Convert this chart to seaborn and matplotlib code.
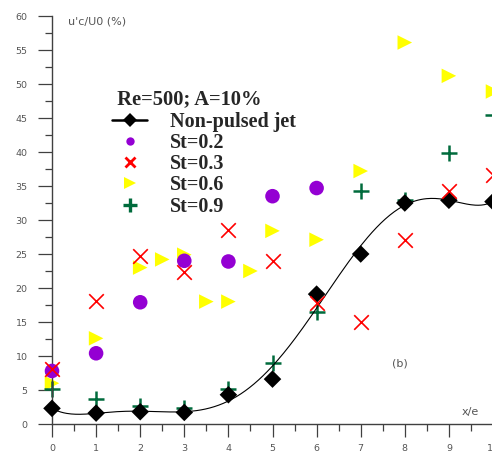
import numpy as np
import pandas as pd
import matplotlib
matplotlib.use("Agg")
import matplotlib.pyplot as plt
import seaborn as sns
from matplotlib.lines import Line2D
from matplotlib.ticker import MultipleLocator

sns.set_theme(style="white")
plt.rcParams["font.family"] = ["DejaVu Sans"]

# ---- data ----
x_pos = [0, 1, 2, 3, 4, 5, 6, 7, 8, 9, 10]
nonpulsed = [2.3, 1.6, 1.8, 1.7, 4.3, 6.6, 19.1, 25.0, 32.5, 32.9, 32.7]
st02_x = [0, 1, 2, 3, 4, 5, 6]
st02_y = [7.8, 10.4, 17.9, 24.0, 23.9, 33.5, 34.7]
st03_y = [8.1, 18.1, 24.7, 22.3, 28.5, 23.9, 17.8, 15.0, 27.0, 34.3, 36.6]
st06_x = [0, 1, 2, 2.5, 3, 3.5, 4, 4.5, 5, 6, 7, 8, 9, 10]
st06_y = [6.0, 12.6, 23.0, 24.2, 24.9, 18.0, 18.0, 22.5, 28.4, 27.1, 37.2, 56.1, 51.2, 48.9]
st09_y = [5.1, 3.7, 2.7, 2.3, 5.1, 8.9, 16.4, 34.3, 32.9, 39.8, 45.4]

labels = ["Non-pulsed jet", "St=0.2", "St=0.3", "St=0.6", "St=0.9"]
legend_title = " Re=500; A=10%"

C_PURPLE = "#9400D3"
C_RED = "#FF0000"
C_YELLOW = "#FFFF00"
C_GREEN = "#006B3C"
C_AXIS = "#404040"
C_TXT = "#555555"

fig = plt.figure(figsize=(4.92, 4.55), dpi=100)
ax = fig.add_axes([52 / 492, 31 / 455, 441 / 492, 408 / 455])

# smooth fit through non-pulsed data
coef = np.polyfit(x_pos, nonpulsed, 6)
xf = np.linspace(0, 10, 300)
fit_df = pd.DataFrame({"x": xf, "y": np.polyval(coef, xf)})
sns.lineplot(data=fit_df, x="x", y="y", ax=ax, color="black", lw=0.8,
             legend=False, zorder=3)

sns.scatterplot(x=st06_x, y=st06_y, ax=ax, marker=">", s=110, color=C_YELLOW,
                edgecolor="none", linewidth=0, zorder=2, clip_on=False, legend=False)
sns.scatterplot(x=x_pos, y=st09_y, ax=ax, marker="+", s=130, color=C_GREEN,
                linewidth=1.8, zorder=2.5, clip_on=False, legend=False)
sns.scatterplot(x=x_pos, y=nonpulsed, ax=ax, marker="D", s=80, color="black",
                edgecolor="none", linewidth=0, zorder=4, clip_on=False, legend=False)
sns.scatterplot(x=st02_x, y=st02_y, ax=ax, marker="o", s=110, color=C_PURPLE,
                edgecolor="none", linewidth=0, zorder=5, clip_on=False, legend=False)
sns.scatterplot(x=x_pos, y=st03_y, ax=ax, marker="x", s=110, color=C_RED,
                linewidth=1.2, zorder=6, clip_on=False, legend=False)

ax.set_xlim(0, 10)
ax.set_ylim(0, 60)
ax.xaxis.set_major_locator(MultipleLocator(1))
ax.xaxis.set_minor_locator(MultipleLocator(0.5))
ax.yaxis.set_major_locator(MultipleLocator(5))
ax.yaxis.set_minor_locator(MultipleLocator(2.5))
ax.set_xlabel("")
ax.set_ylabel("")

for s in ["top", "right"]:
    ax.spines[s].set_visible(False)
for s in ["left", "bottom"]:
    ax.spines[s].set_color(C_AXIS)
    ax.spines[s].set_linewidth(1.0)

ax.tick_params(axis="y", which="major", direction="out", length=10, width=0.9,
               color=C_AXIS, labelsize=6.8, labelcolor=C_TXT, pad=7.5, left=True)
ax.tick_params(axis="y", which="minor", direction="out", length=5, width=0.9,
               color=C_AXIS, left=True)
ax.tick_params(axis="x", which="major", direction="out", length=9.5, width=0.9,
               color=C_AXIS, labelsize=6.8, labelcolor=C_TXT, pad=5, bottom=True)
ax.tick_params(axis="x", which="minor", direction="out", length=5, width=0.9,
               color=C_AXIS, bottom=True)

ax.text(68 / 492, 1 - 21 / 455, "u'c/U0 (%)", transform=fig.transFigure,
        fontsize=8, color=C_TXT, va="center", ha="left")
ax.text(470 / 492, 1 - 412 / 455, "x/e", transform=fig.transFigure,
        fontsize=8, color=C_TXT, va="center", ha="center")
ax.text(400 / 492, 1 - 363 / 455, "(b)", transform=fig.transFigure,
        fontsize=8, color=C_TXT, va="center", ha="center")

handles = [
    Line2D([], [], color="black", lw=1.8, marker="D", markersize=7.5,
           markeredgewidth=0),
    Line2D([], [], ls="none", color=C_PURPLE, marker="o", markersize=6,
           markeredgewidth=0),
    Line2D([], [], ls="none", color=C_RED, marker="x", markersize=7,
           markeredgewidth=2),
    Line2D([], [], ls="none", color=C_YELLOW, marker=">", markersize=9,
           markeredgewidth=0),
    Line2D([], [], ls="none", color=C_GREEN, marker="+", markersize=10,
           markeredgewidth=2.4),
]
leg = ax.legend(handles, labels, title=legend_title, frameon=False,
                loc="upper left", bbox_to_anchor=(112 / 492, 1 - 89 / 455),
                bbox_transform=fig.transFigure, borderpad=0, borderaxespad=0,
                handlelength=1.75, handletextpad=1.15, labelspacing=0.06,
                alignment="left",
                prop={"family": "Liberation Serif", "weight": "bold", "size": 14.5},
                title_fontproperties={"family": "Liberation Serif",
                                      "weight": "bold", "size": 14.8})
leg._legend_box.sep = 2

fig.savefig("out.png", dpi=100)
